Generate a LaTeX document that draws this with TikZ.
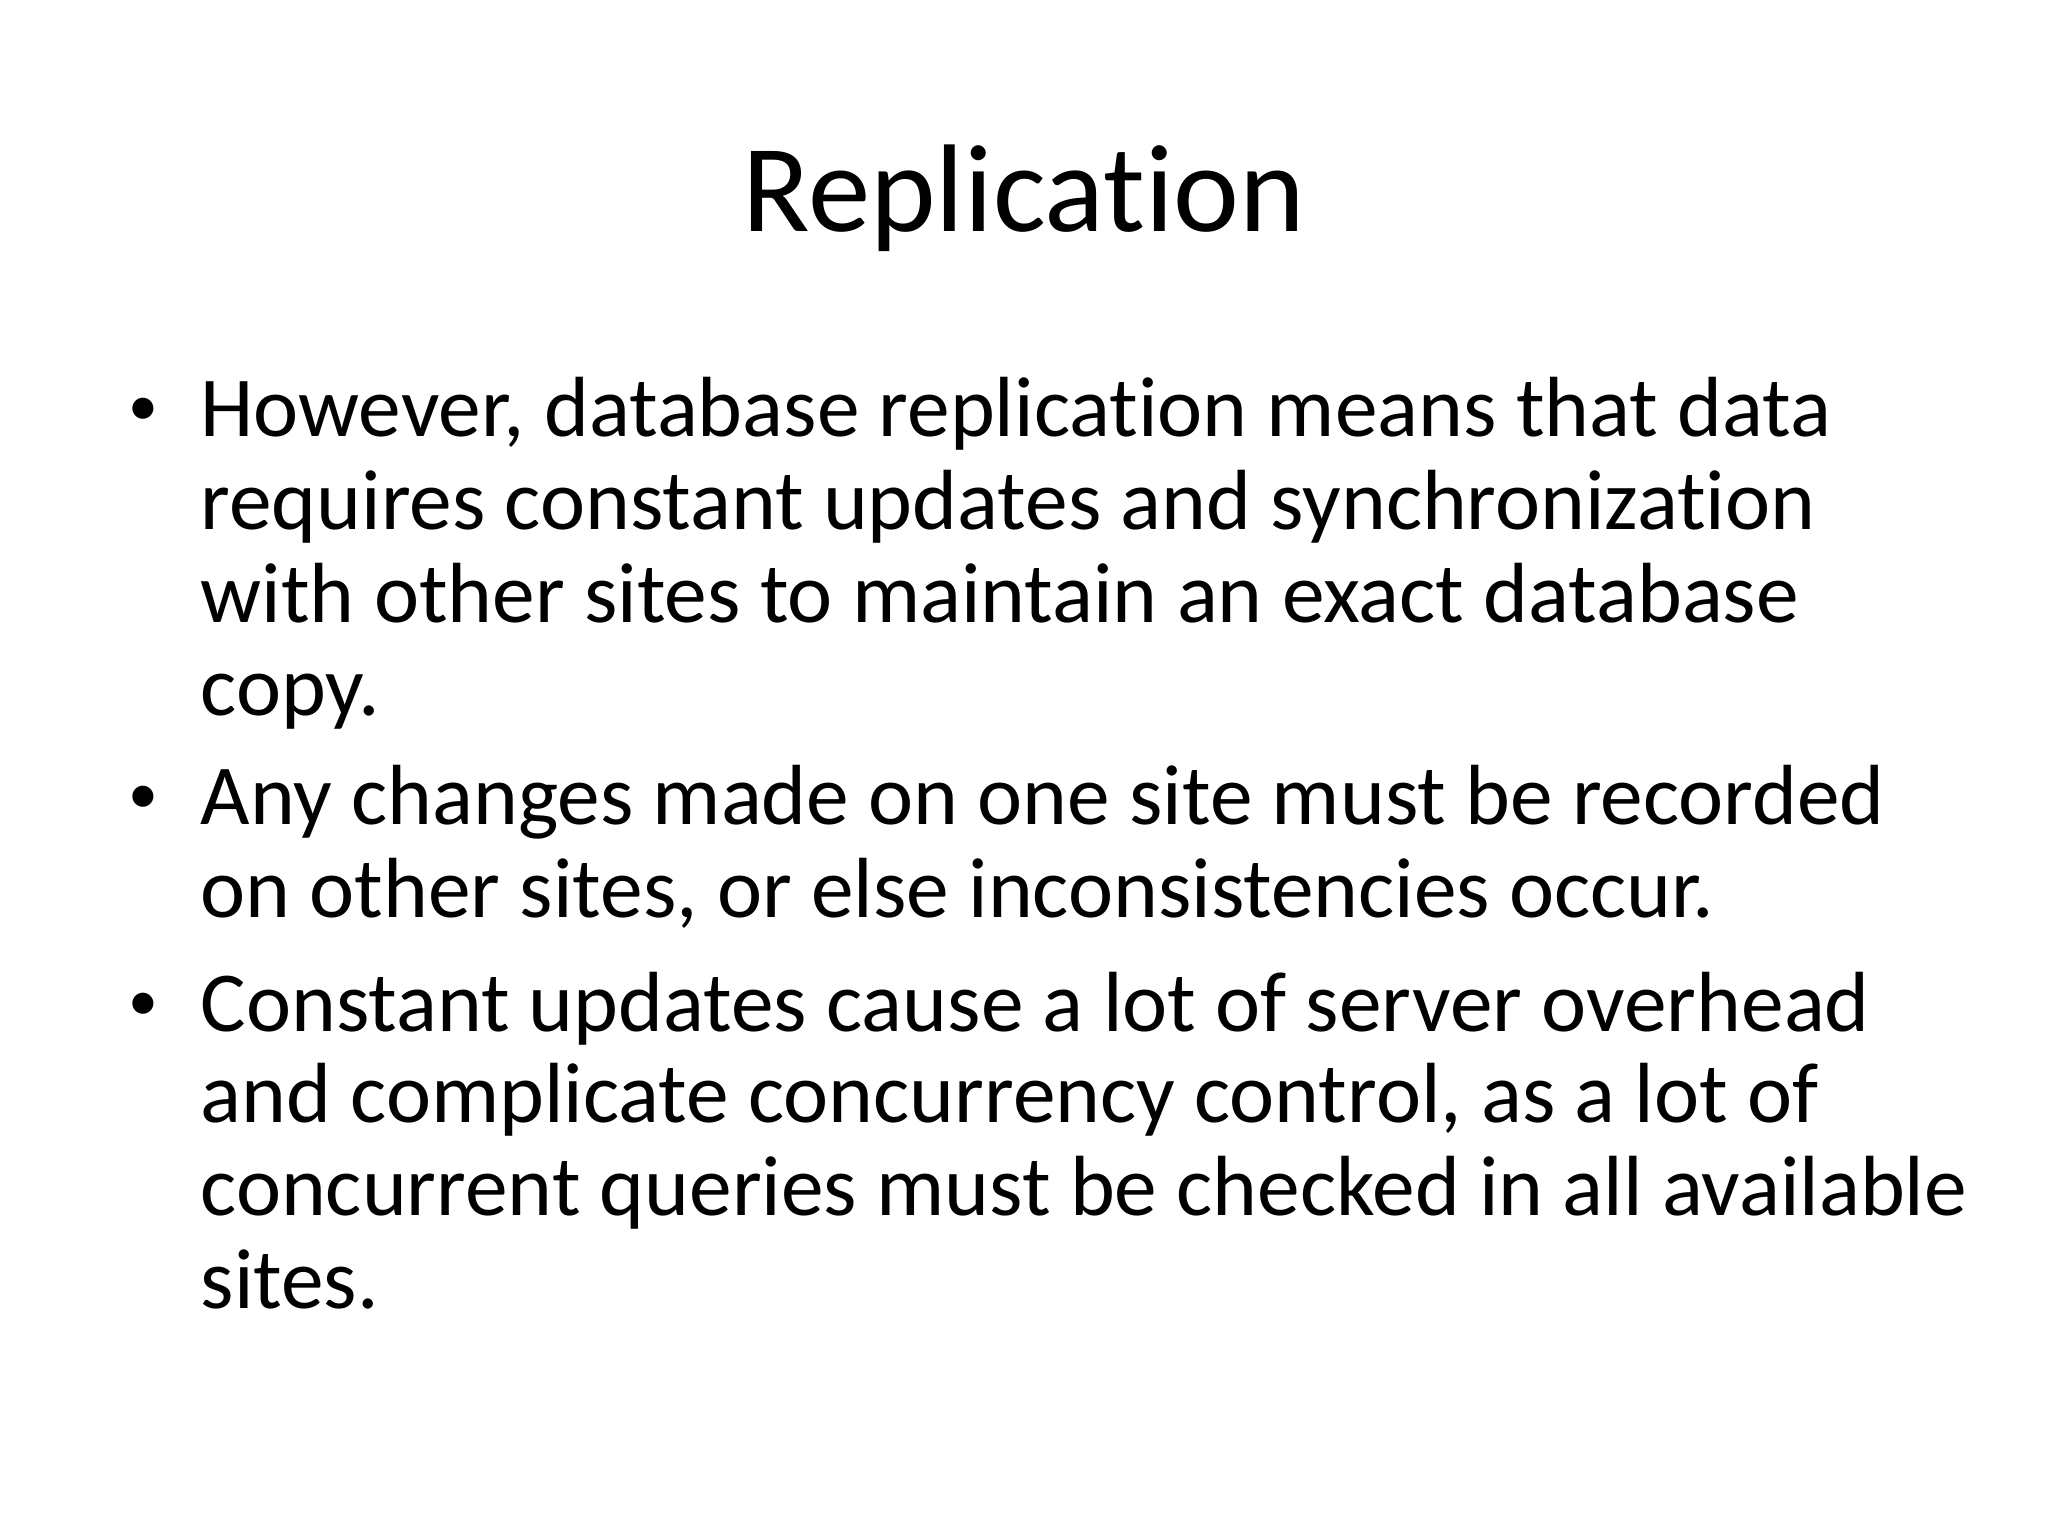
\documentclass[tikz,border=0pt]{standalone}
\usepackage{fontspec}
\setmainfont[Ligatures=NoCommon]{Carlito}
\begin{document}
\begin{tikzpicture}
\useasboundingbox (0,0) rectangle (20.48,15.36);
\tikzset{ln/.style={anchor=base west,inner sep=0pt,font=\fontsize{24.3}{30}\selectfont},
 bul/.style={anchor=base west,inner sep=0pt,font=\fontsize{17}{20}\selectfont}}
\node[anchor=base,inner sep=0pt,font=\fontsize{35.5}{40}\selectfont] (t) at (10.24,13.04) {Replication};
\node[bul] (b1) at (1.28,11.1) {•};
\node[ln] (l1) at (2.0,10.99) {However, database replication means that data};
\node[ln] (l2) at (2.0,10.06) {requires constant updates and synchronization};
\node[ln] (l3) at (2.0,9.13) {with other sites to maintain an exact database};
\node[ln] (l4) at (2.0,8.20) {copy.};
\node[bul] (b2) at (1.28,7.22) {•};
\node[ln] (l5) at (2.0,7.11) {Any changes made on one site must be recorded};
\node[ln] (l6) at (2.0,6.18) {on other sites, or else inconsistencies occur.};
\node[bul] (b3) at (1.28,5.15) {•};
\node[ln] (l7) at (2.0,5.04) {Constant updates cause a lot of server overhead};
\node[ln] (l8) at (2.0,4.13) {and complicate concurrency control, as a lot of};
\node[ln] (l9) at (2.0,3.20) {concurrent queries must be checked in all available};
\node[ln] (l10) at (2.0,2.27) {sites.};
\end{tikzpicture}
\end{document}
